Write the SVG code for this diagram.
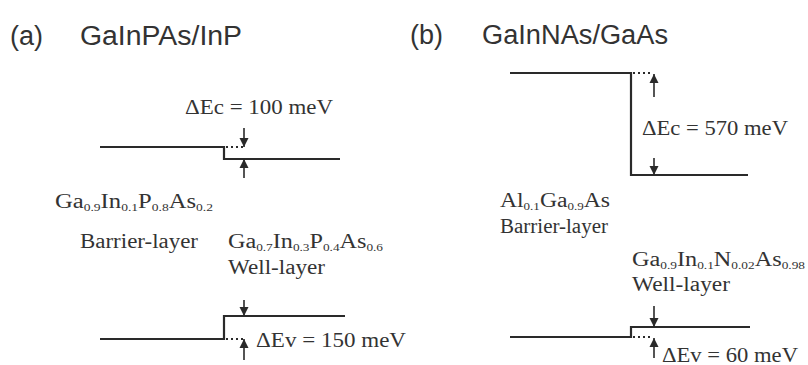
<svg xmlns="http://www.w3.org/2000/svg" width="808" height="365" viewBox="0 0 808 365">
<defs>
<marker id="ah" viewBox="0 0 9 10" refX="9" refY="5" markerWidth="9" markerHeight="10" markerUnits="userSpaceOnUse" orient="auto">
<path d="M0,0.5 L9,5 L0,9.5 Z" fill="#2a2a2a"/>
</marker>
<style>
.band{fill:none;stroke:#2a2a2a;stroke-width:2.2}
.dot{fill:none;stroke:#2a2a2a;stroke-width:1.8;stroke-dasharray:2 3}
.arr{fill:none;stroke:#2a2a2a;stroke-width:1.6;marker-end:url(#ah)}
.title{font-family:"Liberation Sans",Arial,sans-serif;font-size:27px;fill:#333}
.lbl{font-family:"Liberation Serif","Times New Roman",serif;font-size:20px;fill:#333}
.sub{font-size:11px}
</style>
</defs>
<rect width="808" height="365" fill="#fff"/>

<g id="panel-a">
<g id="title-a"><text class="title" x="10" y="45">(a)</text><text class="title" x="80" y="45" textLength="162" lengthAdjust="spacingAndGlyphs">GaInPAs/InP</text></g>
<g id="label-dEc-a"><text class="lbl" x="185" y="114" textLength="148" lengthAdjust="spacingAndGlyphs">ΔEc = 100 meV</text></g>
<g id="label-barrier-a">
<text class="lbl" x="55" y="208" textLength="158" lengthAdjust="spacingAndGlyphs">Ga<tspan class="sub" dy="3">0.9</tspan><tspan dy="-3">In</tspan><tspan class="sub" dy="3">0.1</tspan><tspan dy="-3">P</tspan><tspan class="sub" dy="3">0.8</tspan><tspan dy="-3">As</tspan><tspan class="sub" dy="3">0.2</tspan></text>
<text class="lbl" x="80" y="248" textLength="118" lengthAdjust="spacingAndGlyphs">Barrier-layer</text>
</g>
<g id="label-well-a">
<text class="lbl" x="228" y="248" textLength="155" lengthAdjust="spacingAndGlyphs">Ga<tspan class="sub" dy="3">0.7</tspan><tspan dy="-3">In</tspan><tspan class="sub" dy="3">0.3</tspan><tspan dy="-3">P</tspan><tspan class="sub" dy="3">0.4</tspan><tspan dy="-3">As</tspan><tspan class="sub" dy="3">0.6</tspan></text>
<text class="lbl" x="228" y="274" textLength="97" lengthAdjust="spacingAndGlyphs">Well-layer</text>
</g>
<g id="label-dEv-a"><text class="lbl" x="256" y="347" textLength="150" lengthAdjust="spacingAndGlyphs">ΔEv = 150 meV</text></g>
</g>

<g id="panel-b">
<g id="title-b"><text class="title" x="410" y="44">(b)</text><text class="title" x="482" y="44" textLength="186" lengthAdjust="spacingAndGlyphs">GaInNAs/GaAs</text></g>
<g id="label-dEc-b"><text class="lbl" x="642" y="135" textLength="146" lengthAdjust="spacingAndGlyphs">ΔEc = 570 meV</text></g>
<g id="label-barrier-b">
<text class="lbl" x="500" y="207" textLength="110" lengthAdjust="spacingAndGlyphs">Al<tspan class="sub" dy="3">0.1</tspan><tspan dy="-3">Ga</tspan><tspan class="sub" dy="3">0.9</tspan><tspan dy="-3">As</tspan></text>
<text class="lbl" x="500" y="233" textLength="108" lengthAdjust="spacingAndGlyphs">Barrier-layer</text>
</g>
<g id="label-well-b">
<text class="lbl" x="632" y="266" textLength="173" lengthAdjust="spacingAndGlyphs">Ga<tspan class="sub" dy="3">0.9</tspan><tspan dy="-3">In</tspan><tspan class="sub" dy="3">0.1</tspan><tspan dy="-3">N</tspan><tspan class="sub" dy="3">0.02</tspan><tspan dy="-3">As</tspan><tspan class="sub" dy="3">0.98</tspan></text>
<text class="lbl" x="632" y="291" textLength="98" lengthAdjust="spacingAndGlyphs">Well-layer</text>
</g>
<g id="label-dEv-b"><text class="lbl" x="662" y="362" textLength="136" lengthAdjust="spacingAndGlyphs">ΔEv = 60 meV</text></g>
</g>

<g id="connectors">
<!-- (a) conduction band -->
<path class="band" d="M100 147 H224 V159 H340"/>
<path class="dot" d="M226 147 H243"/>
<path class="arr" d="M244 128 V147"/>
<path class="arr" d="M244 178 V159"/>
<!-- (a) valence band -->
<path class="band" d="M100 339 H224 V316 H345"/>
<path class="dot" d="M226 339 H243"/>
<path class="arr" d="M244 300 V316"/>
<path class="arr" d="M244 360 V339"/>
<!-- (b) conduction band -->
<path class="band" d="M510 73 H631 V175 H748"/>
<path class="dot" d="M633 73 H652"/>
<path class="arr" d="M654 97 V74"/>
<path class="arr" d="M654 158 V175"/>
<!-- (b) valence band -->
<path class="band" d="M510 337 H631 V327 H750"/>
<path class="dot" d="M633 337 H652"/>
<path class="arr" d="M654 306 V327"/>
<path class="arr" d="M654 358 V338"/>
</g>
</svg>
